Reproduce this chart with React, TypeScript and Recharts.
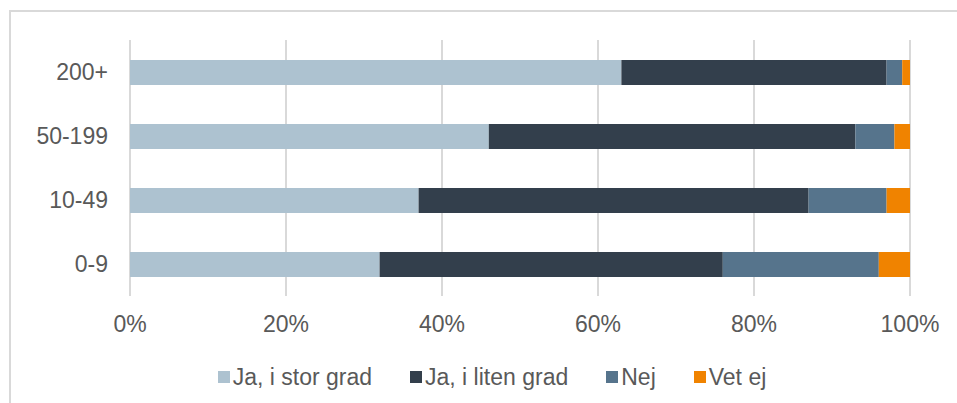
import React from "react";
import {
  BarChart,
  Bar,
  XAxis,
  YAxis,
  CartesianGrid,
  Legend,
} from "recharts";

const sizes = ["200+", "50-199", "10-49", "0-9"];
const storGrad = [63, 46, 37, 32];
const litenGrad = [34, 47, 50, 44];
const nej = [2, 5, 10, 20];
const vetEj = [1, 2, 3, 4];
const xTicks = [0, 20, 40, 60, 80, 100];

const series = [
  { key: "stor", name: "Ja, i stor grad", color: "#ADC2D0" },
  { key: "liten", name: "Ja, i liten grad", color: "#333F4C" },
  { key: "nej", name: "Nej", color: "#56748C" },
  { key: "vet", name: "Vet ej", color: "#F08300" },
];

const data = sizes.map((size, i) => ({
  size,
  stor: storGrad[i],
  liten: litenGrad[i],
  nej: nej[i],
  vet: vetEj[i],
}));

const font = "'Liberation Sans', Arial, sans-serif";
const textColor = "#595959";

const LegendContent = () => (
  <div
    style={{
      display: "flex",
      justifyContent: "center",
      gap: 38,
      paddingLeft: 27,
      fontFamily: font,
      fontSize: 23,
      color: textColor,
      lineHeight: "26px",
    }}
  >
    {series.map((s) => (
      <div key={s.key} style={{ display: "flex", alignItems: "center" }}>
        <span
          style={{
            display: "inline-block",
            width: 12,
            height: 12,
            background: s.color,
            marginRight: 3,
          }}
        />
        <span>{s.name}</span>
      </div>
    ))}
  </div>
);

export default function App() {
  return (
    <div style={{ position: "absolute", left: 0, top: 0, width: 957, height: 403, background: "#fff" }}>
      <div
        style={{
          position: "absolute",
          left: 9,
          top: 10,
          right: 0,
          bottom: 0,
          borderLeft: "2px solid #d9d9d9",
          borderTop: "2px solid #d9d9d9",
        }}
      />
      <BarChart
        width={957}
        height={403}
        data={data}
        layout="vertical"
        barSize={25}
        margin={{ top: 40, right: 47, left: 30, bottom: 77 }}
        style={{ position: "absolute", left: 0, top: 0 }}
      >
        <CartesianGrid horizontal={false} stroke="#d9d9d9" strokeWidth={2} />
        <XAxis
          type="number"
          domain={[0, 100]}
          ticks={xTicks}
          tickFormatter={(v) => `${v}%`}
          axisLine={false}
          tickLine={false}
          tickSize={0}
          tickMargin={20}
          height={30}
          tick={{ fill: textColor, fontSize: 23, fontFamily: font }}
        />
        <YAxis
          type="category"
          dataKey="size"
          width={100}
          axisLine={false}
          tickLine={false}
          tickSize={0}
          tickMargin={22}
          tick={{ fill: textColor, fontSize: 23, fontFamily: font }}
        />
        <Legend
          verticalAlign="middle"
          align="center"
          content={<LegendContent />}
          wrapperStyle={{ top: 364, left: 0, width: 957 }}
        />
        {series.map((s) => (
          <Bar
            key={s.key}
            dataKey={s.key}
            name={s.name}
            stackId="a"
            fill={s.color}
            isAnimationActive={false}
          />
        ))}
      </BarChart>
    </div>
  );
}
